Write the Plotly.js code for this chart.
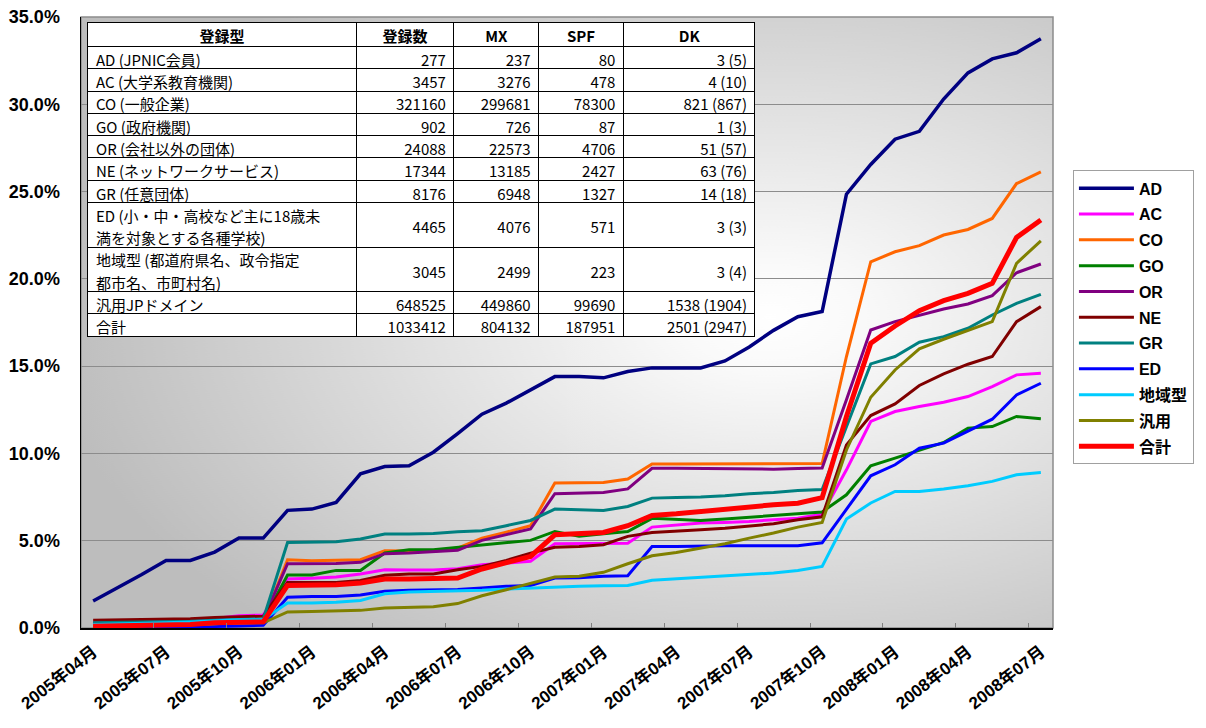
<!DOCTYPE html>
<html>
<head>
<meta charset="utf-8">
<script src="https://cdn.plot.ly/plotly-3.0.1.min.js"></script>
<style>
html,body{margin:0;padding:0;background:#fff;}
#chart{width:1206px;height:728px;}
</style>
</head>
<body>
<div id="chart"></div>
<script>
const months = [
 "2005年04月","2005年05月","2005年06月","2005年07月","2005年08月","2005年09月","2005年10月","2005年11月","2005年12月",
 "2006年01月","2006年02月","2006年03月","2006年04月","2006年05月","2006年06月","2006年07月","2006年08月","2006年09月",
 "2006年10月","2006年11月","2006年12月","2007年01月","2007年02月","2007年03月","2007年04月","2007年05月","2007年06月",
 "2007年07月","2007年08月","2007年09月","2007年10月","2007年11月","2007年12月","2008年01月","2008年02月","2008年03月",
 "2008年04月","2008年05月","2008年06月","2008年07月"
];
const tickLabels = ["2005年04月","2005年07月","2005年10月","2006年01月","2006年04月","2006年07月","2006年10月",
 "2007年01月","2007年04月","2007年07月","2007年10月","2008年01月","2008年04月","2008年07月"];

const seriesNames = ["AD","AC","CO","GO","OR","NE","GR","ED","地域型","汎用","合計"];
const AD = [1.55,2.3,3.06,3.87,3.87,4.35,5.15,5.15,6.74,6.81,7.19,8.83,9.25,9.29,10.07,11.14,12.25,12.88,13.62,14.4,14.4,14.33,14.69,14.9,14.9,14.9,15.3,16.1,17.05,17.83,18.13,24.85,26.55,28.0,28.45,30.3,31.8,32.6,32.95,33.75];
const AC = [0.3,0.33,0.36,0.4,0.45,0.55,0.7,0.75,2.81,2.85,2.92,3.09,3.34,3.32,3.32,3.4,3.62,3.72,3.82,4.83,4.83,4.83,4.86,5.78,5.91,6.01,6.05,6.1,6.2,6.29,6.52,9.06,11.83,12.4,12.69,12.93,13.26,13.83,14.5,14.59];
const CO = [0.15,0.17,0.19,0.2,0.22,0.3,0.35,0.38,3.91,3.85,3.88,3.91,4.43,4.4,4.4,4.58,5.15,5.49,5.86,8.3,8.3,8.33,8.53,9.4,9.4,9.4,9.4,9.4,9.4,9.4,9.42,15.55,20.98,21.55,21.9,22.51,22.83,23.46,25.46,26.13];
const GO = [0.2,0.22,0.24,0.25,0.28,0.35,0.4,0.42,3.04,3.04,3.3,3.3,4.3,4.48,4.48,4.62,4.73,4.86,5.02,5.53,5.25,5.4,5.53,6.28,6.2,6.16,6.24,6.35,6.43,6.58,6.65,7.63,9.29,9.73,10.17,10.63,11.45,11.54,12.12,11.98];
const OR = [0.25,0.27,0.29,0.3,0.33,0.4,0.45,0.48,3.68,3.68,3.7,3.76,4.26,4.3,4.38,4.45,5.02,5.34,5.67,7.69,7.72,7.76,7.97,9.15,9.15,9.13,9.12,9.1,9.1,9.14,9.16,13.07,17.07,17.55,17.93,18.27,18.56,19.04,20.35,20.85];
const NE = [0.45,0.47,0.49,0.5,0.53,0.6,0.65,0.68,2.6,2.62,2.6,2.72,3.02,3.1,3.1,3.34,3.53,3.87,4.29,4.62,4.67,4.77,5.25,5.47,5.57,5.63,5.72,5.86,5.97,6.2,6.37,10.49,12.17,12.84,13.89,14.56,15.11,15.55,17.55,18.41];
const GR = [0.3,0.32,0.34,0.35,0.38,0.45,0.5,0.52,4.9,4.9,4.94,5.1,5.38,5.38,5.42,5.51,5.57,5.86,6.16,6.81,6.77,6.73,6.96,7.44,7.48,7.5,7.57,7.69,7.76,7.88,7.93,11.54,15.13,15.55,16.37,16.69,17.17,17.93,18.6,19.11];
const ED = [0.0,0.0,0.02,0.03,0.05,0.1,0.12,0.15,1.76,1.8,1.8,1.89,2.1,2.16,2.2,2.2,2.29,2.39,2.44,2.86,2.88,2.96,2.99,4.67,4.67,4.71,4.71,4.71,4.71,4.71,4.88,6.78,8.72,9.35,10.3,10.59,11.26,11.96,13.35,14.02];
const CHIIKI = [0.2,0.22,0.25,0.3,0.35,0.42,0.47,0.48,1.43,1.43,1.48,1.58,1.96,2.06,2.1,2.1,2.16,2.23,2.29,2.33,2.39,2.42,2.44,2.73,2.81,2.92,2.99,3.05,3.15,3.3,3.53,6.24,7.16,7.82,7.82,7.96,8.15,8.4,8.78,8.91];
const HANYO = [0.1,0.12,0.14,0.15,0.18,0.25,0.3,0.3,0.92,0.95,0.97,1.01,1.15,1.19,1.22,1.4,1.85,2.19,2.54,2.92,2.96,3.19,3.68,4.14,4.33,4.58,4.83,5.15,5.44,5.78,6.05,10.2,13.22,14.78,15.99,16.54,17.03,17.55,20.89,22.18];
const TOTAL = [0.1,0.12,0.15,0.18,0.2,0.3,0.33,0.35,2.44,2.44,2.48,2.58,2.81,2.81,2.81,2.86,3.38,3.76,4.1,5.34,5.4,5.47,5.86,6.45,6.54,6.68,6.81,6.92,7.06,7.15,7.47,12.12,16.31,17.3,18.18,18.75,19.17,19.74,22.37,23.37];

const seriesValues = [AD,AC,CO,GO,OR,NE,GR,ED,CHIIKI,HANYO,TOTAL];
const seriesColors = ["#000080","#FF00FF","#FF6600","#008000","#800080","#800000","#008080","#0000FF","#00CCFF","#808000","#FF0000"];
const seriesWidths = [3.5,3,3,3,3,3,3,3,3,3,5];

// table data
const tableHeader = ["登録型","登録数","MX","SPF","DK"];
const tableTypes = [["AD (JPNIC会員)"],["AC (大学系教育機関)"],["CO (一般企業)"],["GO (政府機関)"],["OR (会社以外の団体)"],
 ["NE (ネットワークサービス)"],["GR (任意団体)"],["ED (小・中・高校など主に18歳未","満を対象とする各種学校)"],
 ["地域型 (都道府県名、政令指定","都市名、市町村名)"],["汎用JPドメイン"],["合計"]];
const tableCount = [277,3457,321160,902,24088,17344,8176,4465,3045,648525,1033412];
const tableMX = [237,3276,299681,726,22573,13185,6948,4076,2499,449860,804132];
const tableSPF = [80,478,78300,87,4706,2427,1327,571,223,99690,187951];
const tableDK = ["3 (5)","4 (10)","821 (867)","1 (3)","51 (57)","63 (76)","14 (18)","3 (3)","3 (4)","1538 (1904)","2501 (2947)"];

// background gradient for plot area (style only)
function makeBg(w,h){
  const c=document.createElement('canvas'); c.width=w; c.height=h;
  const ctx=c.getContext('2d');
  ctx.fillStyle='#bfbfbf'; ctx.fillRect(0,0,w,h);
  const cx=690, cy=300, rx=720, ry=430;
  ctx.save();
  ctx.translate(cx,cy); ctx.scale(1, ry/rx);
  const g=ctx.createRadialGradient(0,0,0,0,0,rx);
  g.addColorStop(0,'#ffffff');
  g.addColorStop(0.12,'#fafafa');
  g.addColorStop(1,'#bdbdbd');
  ctx.fillStyle=g;
  ctx.fillRect(-cx-10,-cy*rx/ry-10,w+20,h*rx/ry+20);
  ctx.restore();
  return c.toDataURL('image/png');
}

const latin = "Liberation Sans, Arial, Noto Sans CJK JP, sans-serif";
const cjk = "Noto Sans CJK JP, sans-serif";

const traces = seriesNames.map((n,i)=>({
  type:'scatter', mode:'lines', name:n, x:months, y:seriesValues[i],
  line:{color:seriesColors[i], width:seriesWidths[i]},
  legendgroup:'g'+i, hoverinfo:'x+y+name'
}));

// ---- table: structure layer (borders, fills; rows with two text lines are double height)
const tblDomain = {x:[0.0072,0.694], y:[0.30,0.991]};
const colW = [269,98,85,85,132];
const ROW = 22.3, HDR = 24;
const NB = '\u00a0';
const structCol1 = tableTypes.map(t => t.length > 1 ? NB + '<br>' + NB : '');
const blank = tableTypes.map(() => '');
traces.push({
  type:'table', domain:tblDomain, columnwidth:colW,
  header:{values:tableHeader, align:'center', height:HDR,
    line:{color:'#000',width:1}, fill:{color:'#fff'},
    font:{family:cjk,size:15,color:'#000',weight:'bold'}},
  cells:{values:[structCol1,blank,blank,blank,blank], height:ROW,
    line:{color:'#000',width:1}, fill:{color:'#fff'},
    font:{family:cjk,size:[10.4,15,15,15,15],color:'#fff'}}
});

// ---- table: text layer, half-height rows so that two-line cells and their numbers sit correctly
const halfCol1=[], halfCount=[], halfMX=[], halfSPF=[], halfDK=[];
tableTypes.forEach((t,i)=>{
  const nums = [[halfCount,tableCount],[halfMX,tableMX],[halfSPF,tableSPF],[halfDK,tableDK]];
  if (t.length > 1) {
    halfCol1.push(t[0],'',t[1],'');
    nums.forEach(([h,src])=>h.push('',src[i],'',''));
  } else {
    halfCol1.push(t[0],'');
    nums.forEach(([h,src])=>h.push(src[i],''));
  }
});
traces.push({
  type:'table', domain:tblDomain, columnwidth:colW,
  header:{values:tableHeader.map(()=>''), align:'center', height:HDR,
    line:{color:'rgba(0,0,0,0)',width:0}, fill:{color:'rgba(0,0,0,0)'},
    font:{family:cjk,size:15,color:'rgba(0,0,0,0)'}},
  cells:{values:[halfCol1,halfCount,halfMX,halfSPF,halfDK], height:ROW/2,
    align:['left','right','right','right','right'],
    line:{color:'rgba(0,0,0,0)',width:0}, fill:{color:'rgba(0,0,0,0)'},
    font:{family:cjk,size:15,color:'#000'}}
});

const W=974, H=611;
const layout = {
  width:1206, height:728,
  margin:{l:81,r:151,t:17,b:100,pad:0},
  paper_bgcolor:'#fff', plot_bgcolor:'rgba(0,0,0,0)',
  showlegend:true,
  images:[{source:makeBg(W,H), xref:'paper', yref:'paper', x:0, y:1, sizex:1, sizey:1,
           xanchor:'left', yanchor:'top', sizing:'stretch', layer:'below'}],
  shapes:[{type:'rect', xref:'paper', yref:'paper', x0:0, x1:1, y0:0, y1:1,
           line:{color:'#8c8c8c', width:1.5}, fillcolor:'rgba(0,0,0,0)', layer:'below'}],
  xaxis:{
    type:'category', range:[-0.5,39.5], tickvals:tickLabels, ticktext:tickLabels,
    tickangle:-38, tickson:'boundaries', ticks:'inside', ticklen:5, tickcolor:'#808080', tickwidth:1,
    showgrid:false, showline:true, linecolor:'#000', linewidth:1.5, zeroline:false,
    tickfont:{family:latin, size:17, color:'#000', weight:'bold'},
    ticklabelstandoff:6, fixedrange:true
  },
  yaxis:{
    range:[0,35], dtick:5, tick0:0, tickformat:'.1f', ticksuffix:'%',
    showgrid:true, gridcolor:'#8c8c8c', gridwidth:1,
    showline:true, linecolor:'#000', linewidth:1.5, zeroline:false, ticks:'',
    tickfont:{family:latin, size:18, color:'#000', weight:'bold'},
    ticklabelstandoff:16, fixedrange:true
  },
  legend:{
    x:1.0205, xanchor:'left', y:0.749, yanchor:'top',
    bgcolor:'#fff', bordercolor:'#a0a0a0', borderwidth:1,
    traceorder:'grouped', tracegroupgap:2, itemwidth:55,
    font:{family:latin, size:16, color:'#000', weight:'bold'}
  }
};

Plotly.newPlot('chart', traces, layout, {displayModeBar:false, staticPlot:true});
</script>
</body>
</html>
